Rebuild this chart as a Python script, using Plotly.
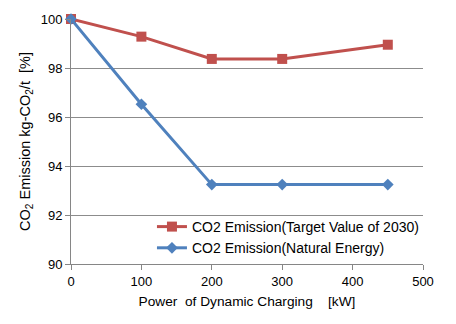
import plotly.graph_objects as go

power_kw = [0, 100, 200, 300, 450]
target_2030 = [100, 99.28, 98.37, 98.37, 98.95]
natural_energy = [100, 96.52, 93.24, 93.24, 93.24]
x_ticks = [0, 100, 200, 300, 400, 500]
y_ticks = [90, 92, 94, 96, 98, 100]

fig = go.Figure()
fig.add_trace(go.Scatter(
    x=power_kw, y=target_2030, mode="lines+markers",
    name="CO2 Emission(Target Value of 2030)",
    line=dict(color="#C0504D", width=3),
    marker=dict(symbol="square", size=10, color="#C0504D"),
    cliponaxis=False,
))
fig.add_trace(go.Scatter(
    x=power_kw, y=natural_energy, mode="lines+markers",
    name="CO2 Emission(Natural Energy)",
    line=dict(color="#4F81BD", width=3),
    marker=dict(symbol="diamond", size=9, color="#4F81BD"),
    cliponaxis=False,
))
fig.update_layout(
    width=456, height=324,
    margin=dict(l=71, r=33, t=17, b=60),
    paper_bgcolor="white", plot_bgcolor="white",
    font=dict(family="Liberation Sans, Arial, sans-serif", size=13, color="#000000"),
    showlegend=True,
    legend=dict(
        x=0.23, y=0.0, xanchor="left", yanchor="bottom",
        bgcolor="rgba(255,255,255,0)", borderwidth=0,
        font=dict(size=14), tracegroupgap=0, itemwidth=30,
    ),
)
fig.update_xaxes(
    range=[0, 500], tickvals=x_ticks, showgrid=False, zeroline=False,
    showline=True, linecolor="#868686", linewidth=1,
    ticks="outside", ticklen=5, tickcolor="#868686",
    tickfont=dict(size=13),
    title=dict(text="Power  of Dynamic Charging    [kW]", standoff=8, font=dict(size=13.7)),
)
fig.update_yaxes(
    range=[90, 100], tickvals=y_ticks, showgrid=True, gridcolor="#8C8C8C", gridwidth=1,
    zeroline=False, showline=True, linecolor="#868686", linewidth=1,
    ticks="outside", ticklen=5, tickcolor="#868686",
    tickfont=dict(size=13),
    title=dict(text="CO<sub>2</sub> Emission kg-CO<sub>2</sub>/t  [%]", standoff=6, font=dict(size=14.5)),
)
fig.write_html("out.html")
